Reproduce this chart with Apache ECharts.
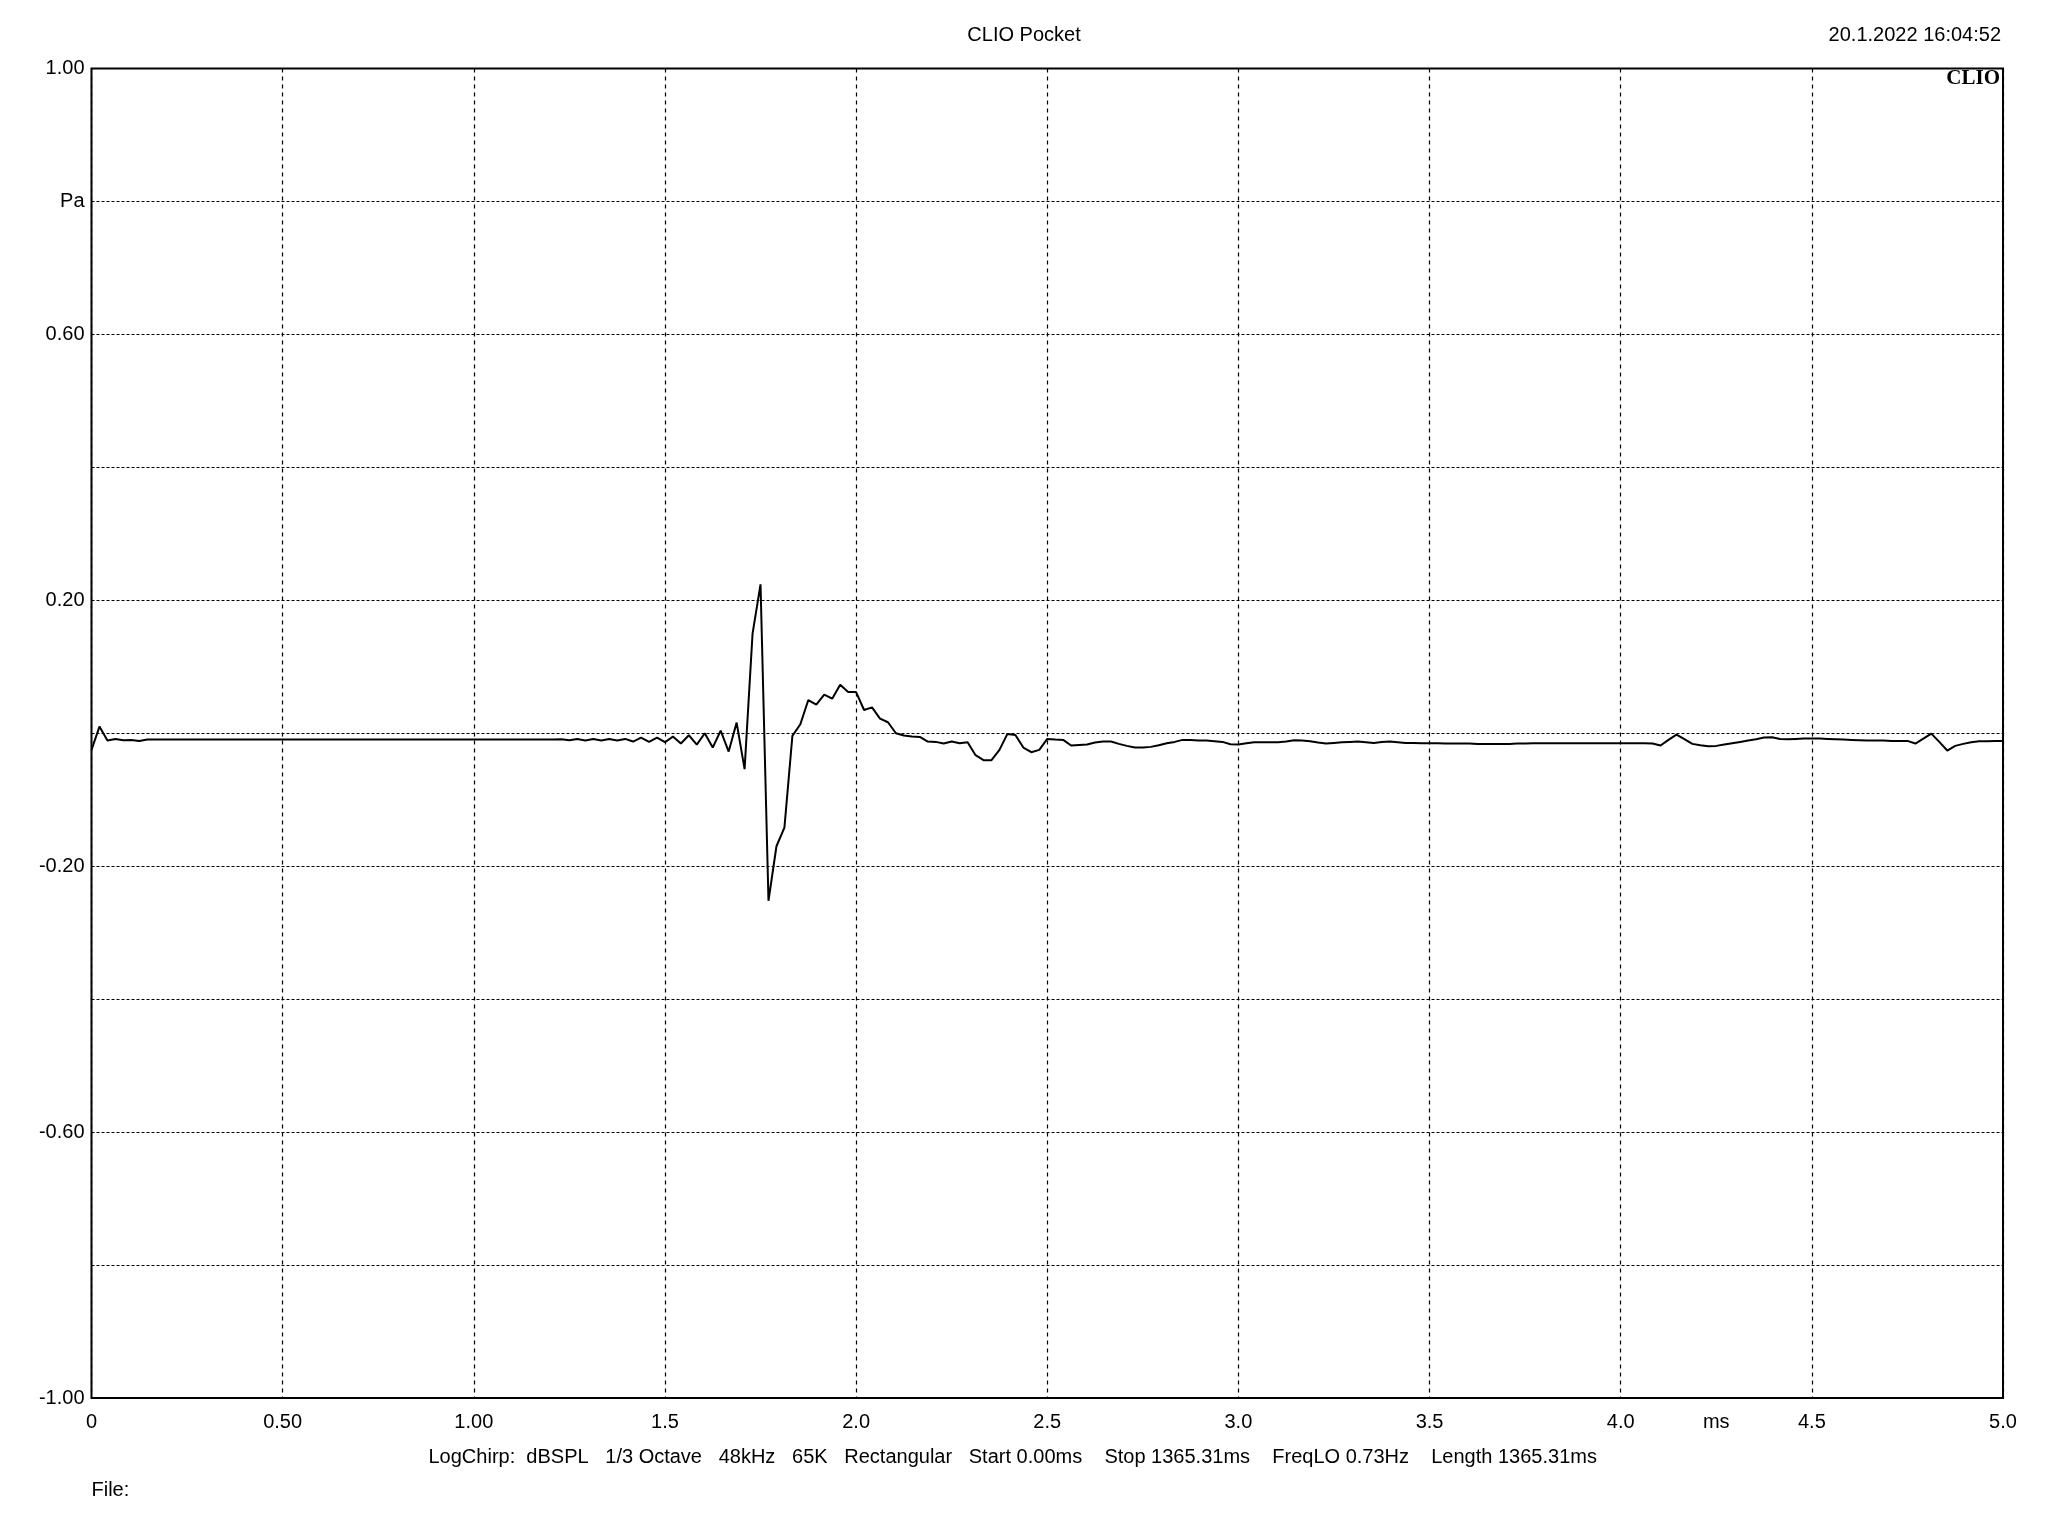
<!DOCTYPE html>
<html><head><meta charset="utf-8">
<script src="https://cdn.jsdelivr.net/npm/echarts@6/dist/echarts.min.js"></script>
<style>html,body{margin:0;padding:0;background:#fff}#c{width:2048px;height:1536px}</style>
</head><body><div id="c"></div>
<script>
// Impulse response, one value per sample (48 kHz), 0 .. 5 ms
const sampleRateKHz = 48;
const pressurePa = [
  -0.025, 0.010, -0.011, -0.0085, -0.0105, -0.010, -0.0115, -0.0095, -0.0095, -0.0095,
  -0.0095, -0.0095, -0.0095, -0.0095, -0.0095, -0.0095, -0.0095, -0.0095, -0.0095, -0.0095,
  -0.0095, -0.0095, -0.0095, -0.0095, -0.0095, -0.0095, -0.0095, -0.0095, -0.0095, -0.0095,
  -0.0095, -0.0095, -0.0095, -0.0095, -0.0095, -0.0095, -0.0095, -0.0095, -0.0095, -0.0095,
  -0.0095, -0.0095, -0.0095, -0.0095, -0.0095, -0.0095, -0.0095, -0.0095, -0.0095, -0.0095,
  -0.0095, -0.0095, -0.0095, -0.0095, -0.0095, -0.0095, -0.0095, -0.0095, -0.0095, -0.009,
  -0.0105, -0.0085, -0.011, -0.0085, -0.011, -0.0085, -0.011, -0.0085, -0.0125, -0.0065,
  -0.013, -0.0065, -0.0135, -0.005, -0.0155, -0.003, -0.017, 0.000, -0.0215, 0.004,
  -0.0275, 0.016, -0.054, 0.150, 0.224, -0.252, -0.170, -0.142, -0.004, 0.0135,
  0.050, 0.043, 0.058, 0.052, 0.073, 0.062, 0.062, 0.035, 0.039, 0.022,
  0.0165, 0.0, -0.0035, -0.005, -0.0055, -0.0125, -0.013, -0.0155, -0.0125, -0.015,
  -0.0135, -0.033, -0.0405, -0.0405, -0.025, -0.001, -0.0025, -0.0215, -0.0285, -0.025,
  -0.0085, -0.0095, -0.010, -0.0185, -0.0175, -0.017, -0.014, -0.0125, -0.0125, -0.016,
  -0.019, -0.0215, -0.0215, -0.0205, -0.018, -0.015, -0.013, -0.010, -0.010, -0.011,
  -0.011, -0.012, -0.013, -0.0165, -0.017, -0.015, -0.0135, -0.0135, -0.0135, -0.0135,
  -0.0125, -0.0105, -0.011, -0.012, -0.014, -0.0155, -0.0145, -0.0135, -0.013, -0.0125,
  -0.0135, -0.0145, -0.013, -0.0125, -0.0135, -0.0145, -0.0145, -0.015, -0.015, -0.015,
  -0.0155, -0.0155, -0.0155, -0.0155, -0.016, -0.016, -0.016, -0.016, -0.016, -0.0155,
  -0.0155, -0.015, -0.015, -0.015, -0.015, -0.015, -0.015, -0.015, -0.015, -0.015,
  -0.015, -0.015, -0.015, -0.015, -0.015, -0.015, -0.0155, -0.0185, -0.010, -0.002,
  -0.009, -0.016, -0.018, -0.0195, -0.019, -0.017, -0.015, -0.013, -0.011, -0.009,
  -0.0065, -0.006, -0.0085, -0.009, -0.0085, -0.008, -0.008, -0.008, -0.0085, -0.009,
  -0.0095, -0.010, -0.0105, -0.011, -0.011, -0.011, -0.0115, -0.0115, -0.0115, -0.0155,
  -0.008, -0.0005, -0.013, -0.026, -0.019, -0.016, -0.0135, -0.012, -0.012, -0.0115,
  -0.0115
];
const xTickLabels = ['0', '0.50', '1.00', '1.5', '2.0', '2.5', '3.0', '3.5', '4.0', '4.5', '5.0'];
const yTickLabels = ['-1.00', '', '-0.60', '', '-0.20', '', '0.20', '', '0.60', 'Pa', '1.00'];
const xUnitLabel = 'ms';
const xUnitAt = 4.25;
const titleText = 'CLIO Pocket';
const dateText = '20.1.2022 16:04:52';
const logoText = 'CLIO';
const infoText = 'LogChirp:  dBSPL   1/3 Octave   48kHz   65K   Rectangular   Start 0.00ms    Stop 1365.31ms    FreqLO 0.73Hz    Length 1365.31ms';
const fileText = 'File:';

const FONT = "'Liberation Sans', Arial, sans-serif";
const FS = 20;
const chart = echarts.init(document.getElementById('c'), null, { renderer: 'canvas' });
const seriesData = pressurePa.map((v, i) => [i / sampleRateKHz, v]);

chart.setOption({
  animation: false,
  backgroundColor: '#ffffff',
  grid: { left: 91.5, right: 45, top: 68.5, bottom: 138, show: true, borderColor: '#000', borderWidth: 2, backgroundColor: 'transparent' },
  xAxis: {
    type: 'value', min: 0, max: 5, interval: 0.5,
    axisLine: { show: false }, axisTick: { show: false },
    axisLabel: {
      color: '#000', fontSize: FS, fontFamily: FONT, margin: 14,
      formatter: v => xTickLabels[Math.round(v / 0.5)] ?? ''
    },
    splitLine: { show: true, lineStyle: { color: '#000', width: 1.2, type: [4, 4] } }
  },
  yAxis: {
    type: 'value', min: -1, max: 1, interval: 0.2,
    axisLine: { show: false }, axisTick: { show: false },
    axisLabel: {
      color: '#000', fontSize: FS, fontFamily: FONT, margin: 7,
      formatter: v => yTickLabels[Math.round((v + 1) / 0.2)] ?? ''
    },
    splitLine: { show: true, lineStyle: { color: '#000', width: 1.2, type: [3, 2] } }
  },
  series: [{
    type: 'line', data: seriesData, showSymbol: false, symbol: 'none',
    lineStyle: { color: '#000', width: 2 }, z: 5
  }]
});

const msPos = chart.convertToPixel({ xAxisIndex: 0, yAxisIndex: 0 }, [xUnitAt, -1]);
chart.setOption({
  graphic: [
    { type: 'text', x: 1024, y: 35, style: { text: titleText, fill: '#000', font: FS + 'px ' + FONT, textAlign: 'center', textVerticalAlign: 'middle' } },
    { type: 'text', x: 2001, y: 35, style: { text: dateText, fill: '#000', font: FS + 'px ' + FONT, textAlign: 'right', textVerticalAlign: 'middle' } },
    { type: 'text', x: 2000, y: 79, z: 10, style: { text: logoText, fill: '#000', font: "bold 21px 'Liberation Serif', 'Times New Roman', serif", textAlign: 'right', textVerticalAlign: 'middle' } },
    { type: 'text', x: msPos[0], y: msPos[1] + 24, style: { text: xUnitLabel, fill: '#000', font: FS + 'px ' + FONT, textAlign: 'center', textVerticalAlign: 'middle' } },
    { type: 'text', x: 428.5, y: 1457, style: { text: infoText, fill: '#000', font: FS + 'px ' + FONT, textAlign: 'left', textVerticalAlign: 'middle' } },
    { type: 'text', x: 91.5, y: 1490, style: { text: fileText, fill: '#000', font: FS + 'px ' + FONT, textAlign: 'left', textVerticalAlign: 'middle' } }
  ]
});
</script></body></html>
